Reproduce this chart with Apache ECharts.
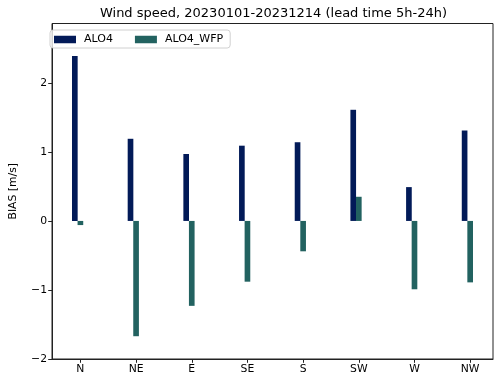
<!DOCTYPE html>
<html>
<head>
<meta charset="utf-8">
<script src="https://cdn.jsdelivr.net/npm/echarts@6/dist/echarts.min.js"></script>
<style>html,body{margin:0;padding:0;background:#fff}#c{width:500px;height:382px}</style>
</head>
<body>
<div id="c"></div>
<script>
const categories = ['N', 'NE', 'E', 'SE', 'S', 'SW', 'W', 'NW'];
const alo4 = [2.39, 1.19, 0.97, 1.09, 1.14, 1.61, 0.49, 1.31];
const alo4Wfp = [-0.06, -1.67, -1.23, -0.88, -0.44, 0.35, -0.99, -0.89];
const yTicks = [-2, -1, 0, 1, 2];
const seriesNames = ['ALO4', 'ALO4_WFP'];
const titleText = 'Wind speed, 20230101-20231214 (lead time 5h-24h)';

const font = 'DejaVu Sans';
const xIdx = categories.map((c, i) => i);
const chart = echarts.init(document.getElementById('c'), null, {renderer: 'canvas'});
chart.setOption({
  animation: false,
  backgroundColor: '#fff',
  title: {
    text: titleText, left: 268.5, textAlign: 'center', top: 2,
    textStyle: {fontFamily: font, fontSize: 13, fontWeight: 'normal', color: '#000'}
  },
  legend: {
    left: 50, top: 30, orient: 'horizontal',
    itemWidth: 22, itemHeight: 7.5, itemGap: 22,
    padding: [4, 7, 3, 4],
    borderColor: '#d0d0d0', borderWidth: 1, borderRadius: 3,
    backgroundColor: 'rgba(255,255,255,0.8)',
    textStyle: {fontFamily: font, fontSize: 11, color: '#000', padding: [0, 0, 0, 3]},
    data: seriesNames.map(n => ({name: n, icon: 'rect'}))
  },
  grid: {left: 44, right: 7, top: 23.5, bottom: 23, show: true, borderColor: '#222', borderWidth: 1, containLabel: false},
  xAxis: {
    type: 'value', min: -0.51, max: 7.41,
    splitLine: {show: false},
    axisLine: {show: true, onZero: false, lineStyle: {color: '#222', width: 1}},
    axisTick: {show: true, length: 3.8, customValues: xIdx, lineStyle: {color: '#222'}},
    axisLabel: {customValues: xIdx, formatter: v => categories[Math.round(v)], fontFamily: font, fontSize: 10.8, color: '#000', margin: 5}
  },
  yAxis: {
    type: 'value', min: -2, max: 2.86,
    name: 'BIAS [m/s]', nameLocation: 'middle', nameGap: 33,
    nameTextStyle: {fontFamily: font, fontSize: 10.8, color: '#000'},
    splitLine: {show: false},
    axisLine: {show: true, onZero: false, lineStyle: {color: '#222', width: 1}},
    axisTick: {show: true, length: 3.8, customValues: yTicks, lineStyle: {color: '#222'}},
    axisLabel: {customValues: yTicks, formatter: v => (v < 0 ? '\u2212' + Math.abs(v) : String(v)), fontFamily: font, fontSize: 10.8, color: '#000', margin: 5}
  },
  series: [
    {
      name: seriesNames[0], type: 'bar', barWidth: 5.66, barGap: '-100%',
      itemStyle: {color: '#021a58'},
      data: alo4.map((v, i) => [i - 0.1, v])
    },
    {
      name: seriesNames[1], type: 'bar', barWidth: 5.66, barGap: '-100%',
      itemStyle: {color: '#226260'},
      data: alo4Wfp.map((v, i) => [i, v])
    }
  ]
});
</script>
</body>
</html>
